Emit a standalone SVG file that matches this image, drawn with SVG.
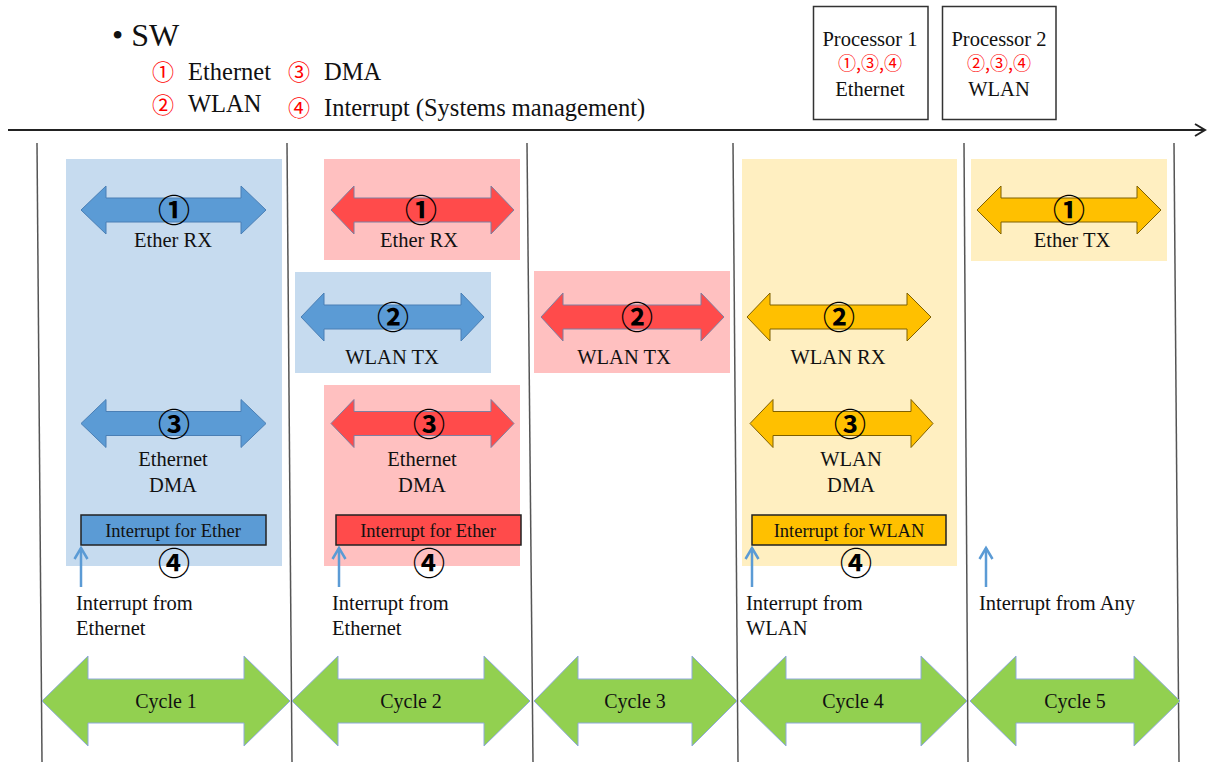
<svg xmlns="http://www.w3.org/2000/svg" width="1208" height="762" viewBox="0 0 1208 762">
<defs>
<style>
text{font-family:"Liberation Serif","Noto Sans CJK JP",serif;fill:#111}
.lg{font-size:24.5px}
.lgn{font-family:"Noto Sans CJK JP","DejaVu Sans",sans-serif;font-size:22px;fill:#f00}
.pt{font-size:20.5px;text-anchor:middle}
.pn{font-family:"Noto Sans CJK JP","DejaVu Sans",sans-serif;font-size:18px;fill:#f00;text-anchor:middle}
.lb{font-size:20.5px;text-anchor:middle}
.it{font-size:18.5px;text-anchor:middle}
.if{font-size:20.5px}
.cy{font-size:20px;text-anchor:middle}
.num{font-family:"Noto Sans CJK JP","DejaVu Sans",sans-serif;font-size:32px;font-weight:bold;text-anchor:middle;fill:#000}
.bgB{fill:#C6DBEF}
.bgR{fill:#FFC0C0}
.bgY{fill:#FFEFC1}
.aB{fill:#5B9BD5;stroke:#4A7FB5;stroke-width:1}
.aR{fill:#FF4B4B;stroke:#7F7FA0;stroke-width:1}
.aY{fill:#FFC000;stroke:#7F6000;stroke-width:1}
.aG{fill:#92D050;stroke:#8EA9DB;stroke-width:1}
.div{stroke:#555;stroke-width:1.5;fill:none}
.up{stroke:#5B9BD5;stroke-width:2.5;fill:none}
.box{stroke:#222;stroke-width:1.5}
.pbox{fill:#fff;stroke:#333;stroke-width:1.5}
</style>
</defs>

<g id="legend">
<text x="112" y="46" style="font-size:32px">• SW</text>
<text x="152" y="80" class="lgn">①</text>
<text x="188" y="80" class="lg">Ethernet</text>
<text x="288" y="80" class="lgn">③</text>
<text x="324" y="80" class="lg">DMA</text>
<text x="152" y="113" class="lgn">②</text>
<text x="188" y="112" class="lg">WLAN</text>
<text x="288" y="116" class="lgn">④</text>
<text x="324" y="116" class="lg">Interrupt (Systems management)</text>
</g>

<g id="processor1">
<rect x="813.5" y="6.5" width="114.5" height="113" class="pbox"/>
<text x="870" y="46" class="pt">Processor 1</text>
<text x="870" y="69.5" class="pn">①,③,④</text>
<text x="870" y="96" class="pt">Ethernet</text>
</g>
<g id="processor2">
<rect x="942.5" y="6.5" width="113.5" height="113" class="pbox"/>
<text x="999" y="46" class="pt">Processor 2</text>
<text x="999" y="69.5" class="pn">②,③,④</text>
<text x="999" y="96" class="pt">WLAN</text>
</g>

<g id="timeline">
<line x1="8" y1="130" x2="1204" y2="130" stroke="#222" stroke-width="2"/>
<polyline points="1195,124 1205,130 1195,136" fill="none" stroke="#222" stroke-width="2"/>
<line x1="37" y1="143" x2="42" y2="762" class="div"/>
<line x1="287" y1="143" x2="292" y2="762" class="div"/>
<line x1="527" y1="143" x2="533" y2="762" class="div"/>
<line x1="733" y1="143" x2="738" y2="762" class="div"/>
<line x1="964" y1="143" x2="968" y2="762" class="div"/>
<line x1="1174" y1="143" x2="1179" y2="762" class="div"/>
</g>

<g id="cycle1-tasks">
<rect x="66" y="159" width="216" height="407" class="bgB"/>
<path class="aB" d="M81,210 L106,186 L106,198 L241,198 L241,186 L266,210 L241,234 L241,222 L106,222 L106,234 Z"/>
<text x="174" y="222" class="num">①</text>
<text x="173" y="247" class="lb">Ether RX</text>
<path class="aB" d="M81,423.5 L106,399.5 L106,411.5 L241,411.5 L241,399.5 L266,423.5 L241,447.5 L241,435.5 L106,435.5 L106,447.5 Z"/>
<text x="174" y="435.5" class="num">③</text>
<text x="173" y="466" class="lb">Ethernet</text>
<text x="173" y="492" class="lb">DMA</text>
<rect x="81" y="515" width="185" height="30" class="box" fill="#5B9BD5"/>
<text x="173" y="536.5" class="it">Interrupt for Ether</text>
<text x="174" y="575" class="num">④</text>
<line x1="81" y1="587" x2="81" y2="548" class="up"/>
<polyline points="74.5,559 81,548 87.5,559" class="up"/>
<text x="76" y="610" class="if">Interrupt from</text>
<text x="76" y="635" class="if">Ethernet</text>
</g>

<g id="cycle2-tasks">
<rect x="324" y="159" width="196" height="101" class="bgR"/>
<path class="aR" d="M331,210 L354,186 L354,198 L491,198 L491,186 L514,210 L491,234 L491,222 L354,222 L354,234 Z"/>
<text x="421" y="222" class="num">①</text>
<text x="419" y="247" class="lb">Ether RX</text>
<rect x="295" y="272" width="196" height="101" class="bgB"/>
<path class="aB" d="M301,317 L324,293 L324,305 L461,305 L461,293 L484,317 L461,341 L461,329 L324,329 L324,341 Z"/>
<text x="393" y="329" class="num">②</text>
<text x="392" y="364" class="lb">WLAN TX</text>
<rect x="324" y="385" width="196" height="181" class="bgR"/>
<path class="aR" d="M331,423.5 L354,399.5 L354,411.5 L491,411.5 L491,399.5 L514,423.5 L491,447.5 L491,435.5 L354,435.5 L354,447.5 Z"/>
<text x="429" y="435.5" class="num">③</text>
<text x="422" y="466" class="lb">Ethernet</text>
<text x="422" y="492" class="lb">DMA</text>
<rect x="336" y="515" width="185" height="30" class="box" fill="#FF4B4B"/>
<text x="428" y="536.5" class="it">Interrupt for Ether</text>
<text x="429" y="575" class="num">④</text>
<line x1="339" y1="587" x2="339" y2="548" class="up"/>
<polyline points="332.5,559 339,548 345.5,559" class="up"/>
<text x="332" y="610" class="if">Interrupt from</text>
<text x="332" y="635" class="if">Ethernet</text>
</g>

<g id="cycle3-tasks">
<rect x="534" y="271" width="196" height="102" class="bgR"/>
<path class="aR" d="M541,317 L563,293 L563,305 L701,305 L701,293 L724,317 L701,341 L701,329 L563,329 L563,341 Z"/>
<text x="637" y="329" class="num">②</text>
<text x="624" y="364" class="lb">WLAN TX</text>
</g>

<g id="cycle4-tasks">
<rect x="742" y="159" width="215" height="407" class="bgY"/>
<path class="aY" d="M747,317 L770,293 L770,305 L907,305 L907,293 L931,317 L907,341 L907,329 L770,329 L770,341 Z"/>
<text x="839" y="329" class="num">②</text>
<text x="838" y="364" class="lb">WLAN RX</text>
<path class="aY" d="M750,423.5 L773,399.5 L773,411.5 L911,411.5 L911,399.5 L933,423.5 L911,447.5 L911,435.5 L773,435.5 L773,447.5 Z"/>
<text x="850" y="435.5" class="num">③</text>
<text x="851" y="466" class="lb">WLAN</text>
<text x="851" y="492" class="lb">DMA</text>
<rect x="752" y="515" width="194" height="30" class="box" fill="#FFC000"/>
<text x="849" y="536.5" class="it">Interrupt for WLAN</text>
<text x="856" y="575" class="num">④</text>
<line x1="752" y1="587" x2="752" y2="548" class="up"/>
<polyline points="745.5,559 752,548 758.5,559" class="up"/>
<text x="746" y="610" class="if">Interrupt from</text>
<text x="746" y="635" class="if">WLAN</text>
</g>

<g id="cycle5-tasks">
<rect x="971" y="159" width="196" height="102" class="bgY"/>
<path class="aY" d="M977,210 L1001,186 L1001,198 L1137,198 L1137,186 L1161,210 L1137,234 L1137,222 L1001,222 L1001,234 Z"/>
<text x="1069" y="222" class="num">①</text>
<text x="1072" y="247" class="lb">Ether TX</text>
<line x1="986" y1="587" x2="986" y2="548" class="up"/>
<polyline points="979.5,559 986,548 992.5,559" class="up"/>
<text x="979" y="610" class="if">Interrupt from Any</text>
</g>

<g id="cycles">
<path class="aG" d="M42,701 L88,656 L88,679 L244,679 L244,656 L290,701 L244,746 L244,723 L88,723 L88,746 Z"/>
<text x="166" y="708" class="cy">Cycle 1</text>
<path class="aG" d="M292,701 L338,656 L338,679 L484,679 L484,656 L530,701 L484,746 L484,723 L338,723 L338,746 Z"/>
<text x="411" y="708" class="cy">Cycle 2</text>
<path class="aG" d="M534,701 L578,656 L578,679 L692,679 L692,656 L737,701 L692,746 L692,723 L578,723 L578,746 Z"/>
<text x="635" y="708" class="cy">Cycle 3</text>
<path class="aG" d="M740,701 L786,656 L786,679 L921,679 L921,656 L967,701 L921,746 L921,723 L786,723 L786,746 Z"/>
<text x="853" y="708" class="cy">Cycle 4</text>
<path class="aG" d="M970,701 L1016,656 L1016,679 L1134,679 L1134,656 L1180,701 L1134,746 L1134,723 L1016,723 L1016,746 Z"/>
<text x="1075" y="708" class="cy">Cycle 5</text>
</g>
</svg>
